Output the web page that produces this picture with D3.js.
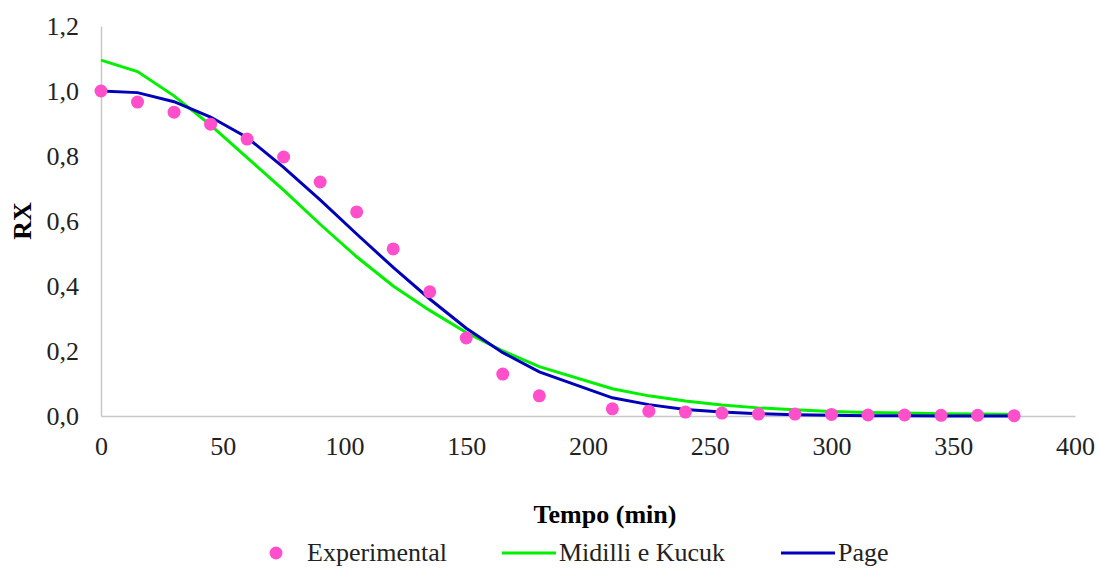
<!DOCTYPE html>
<html>
<head>
<meta charset="utf-8">
<script src="https://cdn.jsdelivr.net/npm/d3@7"></script>
<style>
  body { margin: 0; background: #fff; }
  svg, svg text { font-family: "Liberation Serif", "Times New Roman", serif; }
  svg { display: block; }
</style>
</head>
<body>
<svg width="1099" height="568"></svg>
<script>
// tempos (min)
const times = [0, 15, 30, 45, 60, 75, 90, 105, 120, 135, 150, 165, 180,
  210, 225, 240, 255, 270, 285, 300, 315, 330, 345, 360, 375]
const experimental = [1.0, 0.966, 0.935, 0.898, 0.852, 0.797, 0.72, 0.628, 0.514, 0.382, 0.24, 0.129, 0.062,
  0.022, 0.015, 0.012, 0.009, 0.006, 0.006, 0.005, 0.003, 0.003, 0.002, 0.002, 0.001]
const midilli = [1.095, 1.06, 0.985, 0.895, 0.795, 0.695, 0.59, 0.49, 0.40, 0.325, 0.257, 0.2, 0.152,
  0.084, 0.062, 0.046, 0.034, 0.025, 0.019, 0.014, 0.011, 0.009, 0.007, 0.006, 0.005]
const page = [1.0, 0.995, 0.967, 0.92, 0.857, 0.765, 0.665, 0.56, 0.457, 0.36, 0.27, 0.195, 0.136,
  0.056, 0.035, 0.02, 0.012, 0.007, 0.004, 0.002, 0.001, 0.001, 0.0, 0.0, 0.0]
const xTicks = [0, 50, 100, 150, 200, 250, 300, 350, 400]
const yTicks = [0, 0.2, 0.4, 0.6, 0.8, 1.0, 1.2]

const svg = d3.select('svg')
const margin = {left: 101, right: 24, top: 26, bottom: 152}
const width = 1099 - margin.left - margin.right
const height = 568 - margin.top - margin.bottom
const serif = '"Liberation Serif", "Times New Roman", serif'
const fs = '26px'

const x = d3.scaleLinear().domain([0, 400]).range([margin.left, margin.left + width])
const y = d3.scaleLinear().domain([0, 1.2]).range([margin.top + height, margin.top])
const fmt = d => d3.format('.1f')(d).replace('.', ',')

// axes
const gx = svg.append('g')
  .attr('transform', 'translate(0,' + y(0) + ')')
  .call(d3.axisBottom(x).tickValues(xTicks).tickSize(0).tickPadding(21))
  .attr('font-family', serif)
gx.select('.domain').attr('stroke', '#c8c8c8').attr('stroke-width', 1.5)
gx.selectAll('text').style('font-size', fs).attr('fill', '#222')

const gy = svg.append('g')
  .attr('transform', 'translate(' + x(0) + ',0)')
  .call(d3.axisLeft(y).tickValues(yTicks).tickFormat(fmt).tickSize(0).tickPadding(22))
  .attr('font-family', serif)
gy.select('.domain').attr('stroke', '#c8c8c8').attr('stroke-width', 1.5)
gy.selectAll('text').style('font-size', fs).attr('fill', '#222')

// titles
svg.append('text')
  .attr('transform', 'translate(31,' + (y(0.6)) + ') rotate(-90)')
  .attr('text-anchor', 'middle')
  .style('font-size', fs).style('font-weight', 'bold')
  .text('RX')
svg.append('text')
  .attr('x', 605).attr('y', 523)
  .attr('text-anchor', 'middle')
  .style('font-size', fs).style('font-weight', 'bold')
  .text('Tempo (min)')

// lines
const line = vals => d3.line()
  .x((d, i) => x(times[i]))
  .y(d => y(d))(vals)

svg.append('path')
  .attr('d', line(midilli))
  .attr('fill', 'none').attr('stroke', '#00f000').attr('stroke-width', 3)
svg.append('path')
  .attr('d', line(page))
  .attr('fill', 'none').attr('stroke', '#0000b8').attr('stroke-width', 3)

svg.append('g').selectAll('circle')
  .data(experimental)
  .enter()
  .append('circle')
  .attr('cx', (d, i) => x(times[i]))
  .attr('cy', d => y(d))
  .attr('r', 6.5)
  .attr('fill', '#ff4fcb')

// legend
const leg = svg.append('g').style('font-size', fs).attr('fill', '#222')
leg.append('circle').attr('cx', 276).attr('cy', 553).attr('r', 6.5).attr('fill', '#ff4fcb')
leg.append('text').attr('x', 307).attr('y', 561).text('Experimental')
leg.append('line').attr('x1', 502).attr('x2', 556).attr('y1', 553).attr('y2', 553)
  .attr('stroke', '#00f000').attr('stroke-width', 3)
leg.append('text').attr('x', 559).attr('y', 561).text('Midilli e Kucuk')
leg.append('line').attr('x1', 781).attr('x2', 835).attr('y1', 553).attr('y2', 553)
  .attr('stroke', '#0000b8').attr('stroke-width', 3)
leg.append('text').attr('x', 838).attr('y', 561).text('Page')
</script>
</body>
</html>
